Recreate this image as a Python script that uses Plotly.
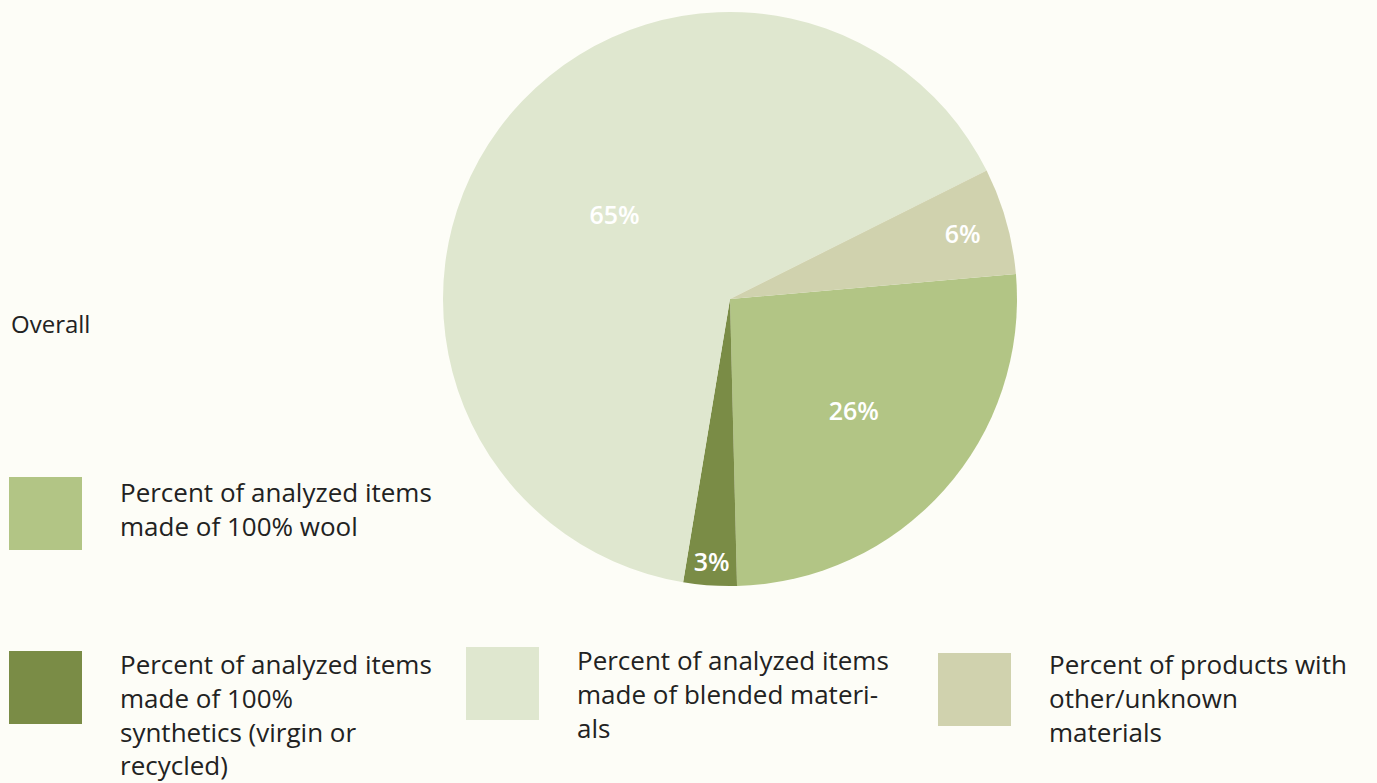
import plotly.graph_objects as go

# Share of analysed items by material composition
categories = [
    "Percent of analyzed items made of 100% wool",
    "Percent of analyzed items made of 100% synthetics (virgin or recycled)",
    "Percent of analyzed items made of blended materials",
    "Percent of products with other/unknown materials",
]
shares = [26, 3, 65, 6]
chart_title = "Overall"

# Legend text wrapped the way it is laid out under the pie
legend_text = [
    "Percent of analyzed items<br>made of 100% wool",
    "Percent of analyzed items<br>made of 100%<br>synthetics (virgin or<br>recycled)",
    "Percent of analyzed items<br>made of blended materi-<br>als",
    "Percent of products with<br>other/unknown<br>materials",
]

colors = ["#b2c585", "#7a8c46", "#dfe7cf", "#d0d2ae"]
bg = "#fdfdf7"
W, H = 1377, 783
FONT = "Open Sans"

fig = go.Figure(
    go.Pie(
        labels=categories,
        values=shares,
        sort=False,
        direction="clockwise",
        rotation=85,
        marker=dict(colors=colors, line=dict(width=0)),
        textinfo="percent",
        textposition="inside",
        insidetextorientation="horizontal",
        textfont=dict(family=FONT, size=25, color="white", weight=600),
        domain=dict(x=[443 / W, 1017 / W], y=[1 - 586 / H, 1 - 12 / H]),
        showlegend=False,
        hoverinfo="label+percent",
    )
)

# Custom legend: square swatch plus wrapped label (pixel positions)
swatch_pos = [(9, 477), (9, 651), (466, 647), (938, 653)]
text_pos = [(118, 472), (118, 644), (575, 640), (1047, 644)]
SW = 73

shapes = []
annotations = [
    dict(
        text=chart_title, x=9 / W, y=1 - 323 / H, xref="paper", yref="paper",
        xanchor="left", yanchor="middle", showarrow=False,
        font=dict(family=FONT, size=24, color="#222222"),
    )
]
for i, cat in enumerate(categories):
    sx, sy = swatch_pos[i]
    shapes.append(dict(
        type="rect", xref="paper", yref="paper",
        x0=sx / W, x1=(sx + SW) / W, y0=1 - (sy + SW) / H, y1=1 - sy / H,
        fillcolor=colors[i], line=dict(width=0), layer="above",
    ))
    tx, ty = text_pos[i]
    annotations.append(dict(
        text=legend_text[i], x=tx / W, y=1 - ty / H, xref="paper", yref="paper",
        xanchor="left", yanchor="top", align="left", showarrow=False,
        font=dict(family=FONT, size=26, color="#222222"),
    ))

fig.update_layout(
    width=W, height=H,
    margin=dict(l=0, r=0, t=0, b=0),
    paper_bgcolor=bg, plot_bgcolor=bg,
    shapes=shapes, annotations=annotations,
)

fig.write_html("out.html")
